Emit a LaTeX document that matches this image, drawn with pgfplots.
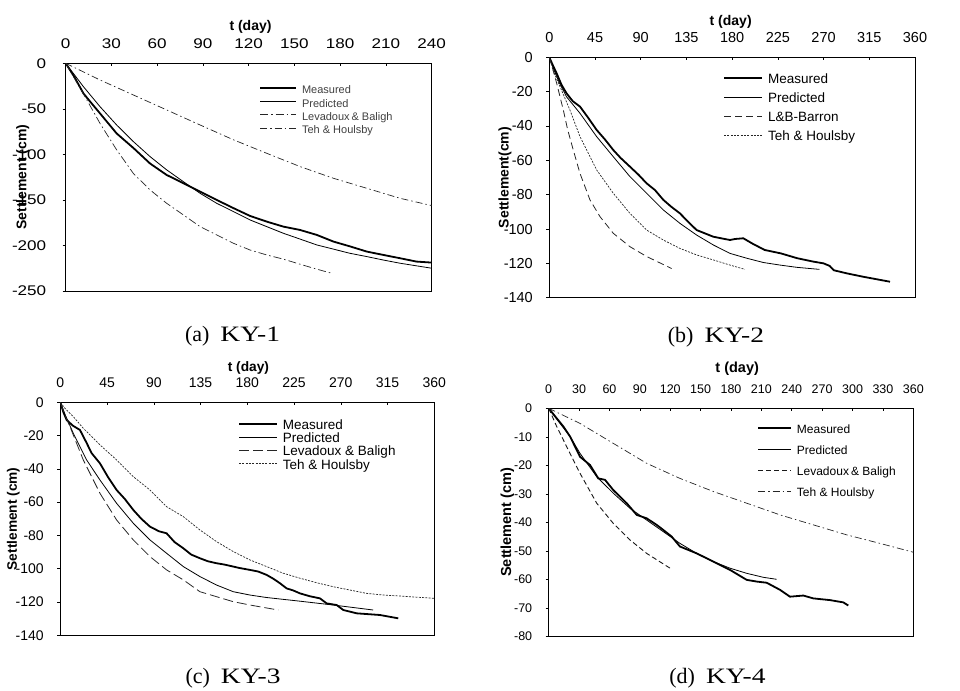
\documentclass[border=0pt]{standalone}
\usepackage{graphicx}
\usepackage{pgfplots}
\pgfplotsset{compat=1.18}
\usepackage{fontspec}
\setmainfont{Liberation Sans}
\newfontfamily\capfont{Liberation Serif}
\newcommand{\panelcap}[2]{{\capfont\fontsize{22}{22}\selectfont(#1)\hspace{11pt}\scalebox{1.25}[1]{KY-#2}}}
\pgfplotsset{
  panel/.style={
    scale only axis, anchor=north west,
    axis line style={line width=0.8pt},
    xticklabel pos=upper, xtick pos=upper, ytick pos=left,
    xtick align=inside, ytick align=outside,
    major tick length=3pt, tick style={black, line width=0.6pt},
    /pgf/number format/assume math mode=true,
    xticklabel style={yshift=11pt},
    yticklabel style={xshift=-10pt},
    legend cell align=left,
    legend style={draw=none, fill=none, anchor=north west, column sep=5pt,
      nodes={inner sep=0pt, text height=7.5pt, text depth=2.5pt}},
  },
  meas/.style={black, line width=1.8pt},
  pred/.style={black, line width=0.8pt},
}
\begin{document}
\begin{tikzpicture}[x=1pt,y=1pt]
\path[use as bounding box] (0,0) rectangle (960,-690);

% ---------------- (a) KY-1
\begin{axis}[panel, at={(65.7pt,-63.3pt)}, width=366pt, height=227.7pt,
  xmin=0, xmax=240, ymin=-250, ymax=0,
  xtick={0,30,...,240}, ytick={-250,-200,...,0},
  tick label style={font=\fontsize{14}{14}\selectfont, xscale=1.22},
  xlabel={\bfseries t (day)}, ylabel={\bfseries Settlement (cm)},
  label style={font=\fontsize{14}{14}\selectfont},
  xlabel style={at={(rel axis cs:0.505,1.16)}, anchor=center},
  ylabel style={at={(rel axis cs:-0.1175,0.5)}, anchor=center},
  legend style={at={(rel axis cs:0.520,0.909)}, row sep=3.3pt,
    font=\fontsize{11}{11}\selectfont, text=black!75},
  legend image code/.code={\draw[#1] (0pt,0.3em) -- (36pt,0.3em);},
]
\addplot[meas] coordinates {(0,0)(5.7,-15)(11.6,-33)(16,-42)(22.5,-55)(33.4,-77)(44.4,-93)(55.3,-110)(66.2,-122.6)(77.2,-131.7)(88.1,-140.9)(99,-150)(110,-159)(120.9,-167.6)(131.8,-173.8)(142.7,-179.3)(153.7,-183)(164.6,-188.4)(175.5,-195.7)(186.4,-201)(197.4,-206.7)(208.3,-210.4)(219.2,-214)(230,-217.7)(240,-218.8)};
\addlegendentry{Measured}
\addplot[pred] coordinates {(0,0)(11.6,-25.6)(22.5,-47.6)(33.4,-67.7)(44.4,-86)(55.3,-102.4)(66.2,-117)(77.2,-130)(88.1,-142.7)(99,-153.7)(110,-162.8)(120.9,-172)(131.8,-179.3)(142.7,-186.6)(153.7,-193)(164.6,-199.4)(175.5,-204)(186.4,-208.6)(197.4,-212.2)(208.3,-216)(219.2,-219.5)(240,-225)};
\addlegendentry{Predicted}
\addplot[black!85, line width=0.7pt, dash pattern=on 8pt off 3pt on 1.5pt off 3pt] coordinates {(0,0)(13.8,-40)(22.5,-66)(33.4,-95)(44.4,-121)(55.3,-139)(66.2,-153.7)(77.2,-166.5)(88.1,-179.3)(99,-188.4)(110,-197.6)(120.9,-205)(131.8,-210.4)(142.7,-215)(153.7,-220.6)(164.6,-226)(174.4,-230.5)};
\addlegendentry{Levadoux\,\& Baligh}
\addplot[black!85, line width=0.7pt, dash pattern=on 7pt off 3pt on 1.5pt off 3pt] coordinates {(0,0)(22.5,-18.3)(44.4,-34.8)(66.2,-51.2)(88.1,-67.7)(110,-84)(131.8,-98.8)(153.7,-113.4)(175.5,-126.2)(197.4,-137.2)(219.2,-148.2)(240,-156.2)};
\addlegendentry{Teh \& Houlsby}
\end{axis}

% ---------------- (b) KY-2
\begin{axis}[panel, at={(549.3pt,-57.3pt)}, width=365.7pt, height=240.4pt,
  xmin=0, xmax=360, ymin=-140, ymax=0,
  xtick={0,45,...,360}, ytick={-140,-120,...,0},
  tick label style={font=\fontsize{14.5}{14.5}\selectfont},
  xlabel={\bfseries t (day)}, ylabel={\bfseries Settlement(cm)},
  label style={font=\fontsize{14}{14}\selectfont},
  xlabel style={at={(rel axis cs:0.496,1.148)}, anchor=center},
  ylabel style={at={(rel axis cs:-0.121,0.5)}, anchor=center},
  legend style={at={(rel axis cs:0.467,0.931)}, row sep=9pt,
    font=\fontsize{13.5}{13.5}\selectfont},
  legend image code/.code={\draw[#1] (0pt,0.3em) -- (38pt,0.3em);},
]
\addplot[meas] coordinates {(0,0)(3,-4)(7.2,-9.3)(12,-16)(17,-21)(23,-25.5)(30.2,-28.7)(38,-35)(46.6,-42.3)(55,-48)(63,-54)(70,-58.5)(79.4,-63.7)(88,-68.5)(95.8,-73.4)(104,-77.3)(112.2,-83)(120,-87)(128.6,-90.9)(137,-96)(145,-100.6)(153,-102.5)(161.5,-104.5)(170,-105.5)(177.9,-106.4)(183,-105.8)(191,-105.4)(200,-108.5)(212,-112.2)(228,-114.2)(244,-117)(260,-119)(270,-120)(276,-121.5)(280,-124)(292.7,-125.8)(309,-127.8)(335.4,-130.7)};
\addlegendentry{Measured}
\addplot[pred] coordinates {(0,0)(5,-8)(10,-15)(17,-23)(30.2,-32.6)(46.6,-46.2)(63,-57.9)(79.4,-69.5)(95.8,-79.2)(112.2,-88.9)(128.6,-96.7)(145,-103.5)(161.5,-109.3)(177.9,-114.2)(194.3,-117)(210.7,-119.5)(227.1,-121)(243.5,-122.3)(265.8,-123.5)};
\addlegendentry{Predicted}
\addplot[black!85, line width=0.8pt, dash pattern=on 7pt off 4pt] coordinates {(0,0)(3,-6)(7.2,-15)(13.8,-30.7)(18,-42)(23.6,-54)(30.2,-67.6)(40,-83)(49.9,-92.8)(63,-102.5)(79.4,-110.3)(95.8,-116)(120.4,-123)};
\addlegendentry{L\&B-Barron}
\addplot[black!85, line width=0.7pt, dash pattern=on 2pt off 1.3pt] coordinates {(0,0)(4,-8)(10.5,-17)(20.3,-30.7)(30.2,-46.2)(46.6,-65.6)(63,-79.2)(79.4,-90.9)(95.8,-100.6)(112.2,-106.4)(128.6,-111.3)(145,-115.1)(161.5,-118)(177.9,-121)(192.6,-123.5)};
\addlegendentry{Teh \& Houlsby}
\end{axis}

% ---------------- (c) KY-3
\begin{axis}[panel, at={(60.3pt,-402.3pt)}, width=374pt, height=233pt,
  xmin=0, xmax=360, ymin=-140, ymax=0,
  xtick={0,45,...,360}, ytick={-140,-120,...,0},
  tick label style={font=\fontsize{14}{14}\selectfont},
  xlabel={\bfseries t (day)}, ylabel={\bfseries Settlement (cm)},
  label style={font=\fontsize{13.7}{13.7}\selectfont},
  xlabel style={at={(rel axis cs:0.503,1.146)}, anchor=center},
  ylabel style={at={(rel axis cs:-0.1257,0.5)}, anchor=center},
  legend style={at={(rel axis cs:0.467,0.926)}, row sep=3.3pt,
    font=\fontsize{13.5}{13.5}\selectfont},
  legend image code/.code={\draw[#1] (0pt,0.3em) -- (38pt,0.3em);},
]
\addplot[meas] coordinates {(0,0)(3,-6)(6.1,-10.6)(12,-14)(18.9,-16.6)(25,-24)(30.2,-30.6)(38.2,-36.7)(46,-45)(54.2,-52.7)(62,-58)(70.3,-64.7)(78,-70)(86.3,-74.7)(95,-77.5)(102.3,-78.7)(110,-84)(118.4,-87.7)(126,-91.5)(134.4,-93.7)(142,-95.5)(150.4,-96.7)(158,-97.5)(166.5,-98.7)(172,-99.5)(182.5,-100.7)(190.6,-101.7)(198.6,-103.7)(205,-106)(211.4,-108.7)(217.8,-111.8)(224,-113)(230.7,-114.8)(240,-116.5)(249.9,-117.8)(256.3,-120.8)(266,-121.8)(272.4,-124.8)(285.3,-126.8)(307.7,-127.8)(325.3,-129.8)};
\addlegendentry{Measured}
\addplot[pred] coordinates {(0,0)(5,-8)(12.5,-18.6)(25.3,-34.6)(38.2,-46.7)(54.2,-60.7)(70.3,-72.7)(86.3,-82.7)(102.3,-90.7)(118.4,-98.7)(134.4,-104.7)(150.4,-109.8)(166.5,-113.8)(182.5,-115.8)(198.6,-117.3)(230.7,-119.5)(262.7,-121.8)(301.2,-124.8)};
\addlegendentry{Predicted}
\addplot[black!85, line width=0.8pt, dash pattern=on 10pt off 4pt] coordinates {(0,0)(4,-7)(9.3,-14.6)(22.1,-34.6)(38.2,-54.7)(54.2,-70.7)(70.3,-82.7)(86.3,-92.7)(102.3,-100.7)(118.4,-106.7)(134.4,-113.8)(150.4,-116.8)(166.5,-119.8)(182.5,-121.8)(209.8,-124.8)};
\addlegendentry{Levadoux \& Baligh}
\addplot[black!85, line width=0.7pt, dash pattern=on 2pt off 1.3pt] coordinates {(0,0)(5,-4)(12.5,-8.6)(22.1,-15.6)(38.2,-25.6)(54.2,-34.6)(70.3,-44.7)(86.3,-52.7)(102.3,-62.7)(118.4,-68.7)(134.4,-76.7)(150.4,-83.7)(166.5,-89.7)(182.5,-94.7)(198.6,-98.7)(214.6,-102.7)(230.7,-105.7)(246.7,-108.4)(262.7,-110.8)(278.8,-112.8)(294.8,-114.8)(310.9,-115.8)(326.9,-116.4)(360,-117.8)};
\addlegendentry{Teh \& Houlsby}
\end{axis}

% ---------------- (d) KY-4
\begin{axis}[panel, at={(548.7pt,-408.3pt)}, width=364.6pt, height=228pt,
  xmin=0, xmax=360, ymin=-80, ymax=0,
  xtick={0,30,...,360}, ytick={-80,-70,...,0},
  tick label style={font=\fontsize{12.5}{12.5}\selectfont},
  xlabel={\bfseries t (day)}, ylabel={\bfseries Settlement (cm)},
  label style={font=\fontsize{14.5}{14.5}\selectfont},
  xlabel style={at={(rel axis cs:0.517,1.175)}, anchor=center},
  ylabel style={at={(rel axis cs:-0.1135,0.5)}, anchor=center},
  legend style={at={(rel axis cs:0.563,0.931)}, row sep=11pt,
    font=\fontsize{12}{12}\selectfont},
  legend image code/.code={\draw[#1] (0pt,0.3em) -- (33pt,0.3em);},
]
\addplot[meas] coordinates {(0,0)(7.9,-3.5)(14.5,-6.4)(21.1,-9.9)(30.9,-17)(40.8,-19.9)(49,-24.6)(55.6,-25.1)(63.8,-28.7)(77,-33.3)(86.9,-37.4)(96.7,-38.6)(106.6,-40.9)(113.2,-42.7)(121.4,-45)(129.6,-48.5)(146.1,-50.9)(162.6,-53.8)(179,-56.7)(195.5,-60.2)(205.4,-60.8)(215.2,-61.2)(228.4,-63.7)(238.2,-66.1)(251.4,-65.7)(261.3,-66.7)(277.7,-67.3)(290.9,-68.1)(295.8,-69.2)};
\addlegendentry{Measured}
\addplot[pred] coordinates {(0,0)(11.2,-5.3)(21.1,-9.9)(30.9,-15.8)(47.4,-24)(63.8,-29.8)(80.3,-35.1)(96.7,-39.2)(113.2,-43.3)(129.6,-47.4)(146.1,-50.9)(162.6,-53.8)(179,-56.1)(195.5,-57.9)(211.9,-59.3)(225,-60)};
\addlegendentry{Predicted}
\addplot[black!90, line width=0.9pt, dash pattern=on 5pt off 3pt] coordinates {(0,0)(7.9,-6.4)(17.8,-13.5)(30.9,-22.8)(47.4,-33.3)(63.8,-40.4)(80.3,-46.2)(96.7,-50.9)(119.8,-56.1)};
\addlegendentry{Levadoux\,\& Baligh}
\addplot[black!85, line width=0.7pt, dash pattern=on 7pt off 3pt on 1.5pt off 3pt] coordinates {(0,0)(30.9,-5.3)(63.8,-12.3)(96.7,-19.3)(129.6,-24.6)(162.6,-29.2)(195.5,-33.3)(228.4,-37.4)(261.3,-40.9)(294.2,-44.4)(327.1,-47.4)(360,-50.5)};
\addlegendentry{Teh \& Houlsby}
\end{axis}

% captions
\node[anchor=base] at (232.5,-341.7) {\panelcap{a}{1}};
\node[anchor=base] at (716,-342) {\panelcap{b}{2}};
\node[anchor=base] at (233,-683.3) {\panelcap{c}{3}};
\node[anchor=base] at (717.5,-683.3) {\panelcap{d}{4}};
\end{tikzpicture}
\end{document}
